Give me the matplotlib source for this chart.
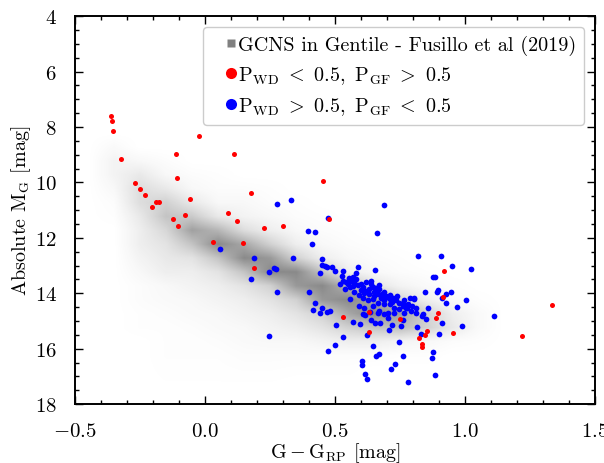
import numpy as np
import matplotlib
matplotlib.use('Agg')
from matplotlib import pyplot as plt
from matplotlib.colors import LinearSegmentedColormap, PowerNorm
from matplotlib.lines import Line2D

plt.rcParams['font.family'] = 'serif'
plt.rcParams['font.serif'] = ['cmr10']
plt.rcParams['mathtext.fontset'] = 'cm'
plt.rcParams['axes.formatter.use_mathtext'] = True

# GCNS density (rows = magnitude bins, cols = colour bins)
gcns_color = [-0.45, -0.35, -0.25, -0.15, -0.05, 0.05, 0.15, 0.25, 0.35, 0.45, 0.55, 0.65, 0.75, 0.85, 0.95, 1.05, 1.15]
gcns_mag = [8.25, 8.75, 9.25, 9.75, 10.25, 10.75, 11.25, 11.75, 12.25, 12.75, 13.25, 13.75, 14.25, 14.75, 15.25, 15.75, 16.25, 16.75, 17.25, 17.75]
gcns_density = [
    [0, 0, 0, 0, 0, 0, 0, 0, 0, 0, 0, 0, 0, 0, 0, 0, 0],
    [0, 0.8, 0, 0, 0, 0, 0, 0, 0, 0, 0, 0, 0, 0, 0, 0, 0],
    [0, 1.5, 1.0, 0.5, 0, 0, 0, 0, 0, 0, 0, 0, 0, 0, 0, 0, 0],
    [0, 1.5, 2.5, 1.0, 0.5, 0.3, 0, 0, 0, 0, 0, 0, 0, 0, 0, 0, 0],
    [0, 1.0, 3.5, 2.5, 1.0, 0.5, 0.5, 0.3, 0, 0, 0, 0, 0, 0, 0, 0, 0],
    [0, 0.5, 3.5, 4.5, 2.5, 1.0, 1.0, 0.5, 0.3, 0, 0, 0, 0, 0, 0, 0, 0],
    [0, 0.3, 2.5, 5.5, 5.0, 2.5, 1.5, 1.0, 0.5, 0.3, 0, 0, 0, 0, 0, 0, 0],
    [0, 0, 2.0, 4.0, 8.0, 6.5, 3.5, 2.0, 1.0, 0.5, 0.3, 0, 0, 0, 0, 0, 0],
    [0, 0, 2.0, 3.0, 5.5, 9.5, 7.5, 4.5, 2.0, 1.0, 0.5, 0.3, 0, 0, 0, 0, 0],
    [0, 0, 1.5, 2.5, 3.0, 5.5, 9.5, 8.5, 4.5, 2.0, 1.0, 0.5, 0.3, 0, 0, 0, 0],
    [0, 0, 1.0, 2.0, 2.0, 3.0, 5.5, 9.5, 9.5, 5.5, 2.0, 1.0, 0.5, 0.3, 0, 0, 0],
    [0, 0, 0.5, 1.0, 1.5, 2.0, 3.0, 4.5, 8.5, 9.5, 6.5, 3.0, 1.5, 0.8, 0.3, 0, 0],
    [0, 0, 0.5, 0.8, 1.0, 1.5, 2.0, 3.0, 4.5, 8.5, 9.5, 7.5, 4.0, 2.0, 0.8, 0.3, 0],
    [0, 0, 0.3, 0.5, 0.8, 1.0, 1.5, 2.0, 3.0, 4.5, 7.5, 9.5, 8.0, 4.5, 2.0, 0.8, 0],
    [0, 0, 0.3, 0.3, 0.5, 0.8, 1.0, 1.5, 2.0, 3.0, 4.5, 5.5, 6.0, 4.5, 2.5, 0.8, 0],
    [0, 0, 0, 0.3, 0.3, 0.5, 0.8, 1.0, 1.0, 1.5, 2.0, 2.0, 1.5, 1.0, 0.5, 0.3, 0],
    [0, 0, 0, 0.3, 0.3, 0.3, 0.5, 0.5, 0.5, 0.5, 0.5, 0.5, 0.3, 0.3, 0, 0, 0],
    [0, 0, 0, 0.2, 0.2, 0.2, 0.3, 0.3, 0.2, 0.2, 0.2, 0, 0, 0, 0, 0, 0],
    [0, 0, 0, 0.1, 0.1, 0.1, 0.1, 0.1, 0, 0, 0, 0, 0, 0, 0, 0, 0],
    [0, 0, 0, 0, 0, 0, 0, 0, 0, 0, 0, 0, 0, 0, 0, 0, 0],
]

# P_WD < 0.5, P_GF > 0.5
red_color = [-0.363, -0.358, -0.352, -0.322, -0.267, -0.251, -0.232, -0.188, -0.178, -0.205,
             -0.113, -0.024, 0.111, -0.108, -0.056, -0.075, -0.124, -0.105, 0.178, 0.088,
             0.122, 0.032, 0.147, 0.456, 0.226, 0.301, 0.188, 0.476, 0.533, 0.630,
             0.630, 0.750, 0.920, 1.334, 1.221, 0.917, 0.895, 0.888, 0.855, 0.847,
             0.823, 0.834, 0.835, 0.955]
red_mag = [7.62, 7.79, 8.15, 9.16, 10.02, 10.23, 10.46, 10.69, 10.71, 10.90,
           8.97, 8.34, 8.99, 9.85, 10.61, 11.17, 11.32, 11.57, 10.40, 11.10,
           11.40, 12.14, 12.17, 9.96, 11.65, 11.57, 13.09, 11.33, 14.86, 15.41,
           14.66, 14.94, 13.21, 14.44, 15.53, 14.12, 14.70, 14.88, 15.37, 15.51,
           15.62, 15.84, 15.93, 15.42]

# P_WD > 0.5, P_GF < 0.5
blue_color = [0.278, 0.332, 0.688, 0.472, 0.397, 0.424, 0.660, 0.410, 0.057, 0.188,
              0.339, 0.452, 0.452, 0.245, 0.267, 0.272, 0.176, 0.276, 0.399, 0.442,
              0.463, 0.470, 0.489, 0.500, 0.589, 0.656, 0.425, 0.417, 0.443, 0.470,
              0.480, 0.505, 0.570, 0.598, 0.615, 0.638, 0.655, 0.675, 0.690, 0.706,
              0.720, 0.708, 0.530, 0.625, 0.648, 0.499, 0.475, 0.245, 0.657, 0.670,
              0.745, 0.820, 0.907, 0.949, 1.025, 0.879, 0.884, 0.847, 0.892, 0.895,
              0.948, 0.926, 0.911, 0.929, 1.005, 0.968, 0.858, 0.839, 1.110, 0.849,
              0.911, 0.990, 0.816, 0.756, 0.830, 0.900, 0.762, 0.878, 0.872, 0.730,
              0.717, 0.884, 0.806, 0.833, 0.812, 0.775, 0.760, 0.606, 0.605, 0.617,
              0.622, 0.780, 0.449, 0.558, 0.607,
              0.533, 0.528, 0.582, 0.568, 0.553, 0.560, 0.543, 0.530, 0.520, 0.574,
              0.582, 0.558, 0.537, 0.601, 0.607, 0.639, 0.645, 0.658, 0.671, 0.620,
              0.630, 0.652, 0.665, 0.682, 0.697, 0.712, 0.678, 0.690, 0.710, 0.725,
              0.735, 0.748, 0.767, 0.787, 0.806, 0.761, 0.776, 0.797, 0.812, 0.793,
              0.748, 0.729, 0.712, 0.690, 0.665, 0.645, 0.626, 0.607, 0.592, 0.575,
              0.594, 0.613, 0.633, 0.645, 0.671, 0.703, 0.729, 0.665, 0.767,
              0.590, 0.620, 0.630, 0.660, 0.690, 0.700, 0.720, 0.740, 0.760, 0.780,
              0.680, 0.650, 0.600, 0.570, 0.550, 0.610, 0.640, 0.670]
blue_mag = [10.79, 10.65, 10.83, 11.28, 11.76, 11.79, 11.83, 12.22, 12.42, 12.74,
            12.74, 12.77, 12.98, 13.22, 13.09, 13.11, 13.49, 13.95, 13.94, 13.28,
            13.03, 13.05, 13.04, 13.21, 13.05, 13.17, 14.34, 14.60, 14.70, 14.66,
            14.65, 15.16, 15.04, 15.12, 14.79, 14.95, 15.08, 15.07, 14.76, 14.88,
            15.16, 15.32, 15.59, 15.52, 15.90, 15.87, 16.10, 15.53, 16.25, 16.21,
            15.76, 12.66, 12.64, 13.03, 13.12, 13.42, 13.42, 13.96, 13.96, 13.90,
            13.96, 14.02, 14.18, 14.35, 14.23, 14.51, 14.54, 14.76, 14.82, 14.94,
            15.06, 15.17, 15.23, 15.19, 15.48, 15.46, 16.25, 16.13, 16.35, 16.57,
            16.74, 16.94, 14.19, 14.83, 14.70, 14.55, 14.96, 16.43, 16.60, 16.92,
            17.10, 17.20, 14.55, 14.19, 14.75,
            13.21, 13.39, 13.27, 13.41, 13.46, 13.56, 13.58, 13.56, 13.65, 13.61,
            13.49, 13.79, 13.86, 13.65, 13.79, 13.68, 13.79, 13.82, 13.86, 13.92,
            14.04, 13.97, 14.04, 14.01, 14.10, 14.07, 14.18, 14.25, 14.22, 14.18,
            14.25, 14.34, 14.23, 14.18, 14.18, 14.46, 14.52, 14.46, 14.54, 14.64,
            14.58, 14.52, 14.40, 14.40, 14.34, 14.22, 14.25, 14.16, 14.06, 13.97,
            14.46, 14.52, 14.66, 14.46, 14.64, 14.73, 14.70, 14.73, 14.73,
            13.70, 13.60, 13.85, 13.95, 13.95, 14.15, 14.30, 14.10, 14.35, 14.40,
            14.10, 14.10, 13.90, 13.75, 13.65, 14.00, 13.55, 13.70]

fig = plt.figure(figsize=(6.04, 4.64), dpi=100)
ax = fig.add_axes([0.124, 0.127, 0.861, 0.836])

gray_cmap = LinearSegmentedColormap.from_list('gcns', ['#ffffff', '#8a8a8a'])
dx = gcns_color[1] - gcns_color[0]
dy = gcns_mag[1] - gcns_mag[0]
ax.imshow(np.array(gcns_density), origin='lower', aspect='auto', cmap=gray_cmap,
          norm=PowerNorm(gamma=1.25, vmin=0, vmax=9.5), interpolation='bilinear', zorder=1,
          extent=(gcns_color[0] - dx / 2, gcns_color[-1] + dx / 2,
                  gcns_mag[0] - dy / 2, gcns_mag[-1] + dy / 2))

ax.scatter(red_color, red_mag, s=13, color='red', linewidths=0, zorder=3)
ax.scatter(blue_color, blue_mag, s=17, color='blue', linewidths=0, zorder=2)

ax.set_xlim(-0.5, 1.5)
ax.set_ylim(18, 4)
ax.set_xticks([-0.5, 0.0, 0.5, 1.0, 1.5])
ax.set_xticks(np.arange(-0.5, 1.51, 0.1), minor=True)
ax.set_yticks([4, 6, 8, 10, 12, 14, 16, 18])
ax.set_yticks(np.arange(4, 18.1, 0.5), minor=True)
ax.xaxis.set_major_formatter(matplotlib.ticker.FormatStrFormatter('$%.1f$'))
ax.tick_params(which='both', direction='in', top=True, right=True, labelsize=15, width=1.0)
ax.tick_params(which='major', length=6, pad=13)
ax.tick_params(which='minor', length=3)
for s in ax.spines.values():
    s.set_linewidth(1.4)

ax.set_xlabel(r'$\mathrm{G - G_{RP}}$ [mag]', fontsize=14.5, labelpad=0)
ax.set_ylabel(r'Absolute $\mathrm{M_G}$ [mag]', fontsize=14.5, labelpad=1)

handles = [
    Line2D([], [], ls='none', marker='s', ms=6, color='#808080', mec='none'),
    Line2D([], [], ls='none', marker='o', ms=8, color='red', mec='none'),
    Line2D([], [], ls='none', marker='o', ms=8, color='blue', mec='none'),
]
labels = ['GCNS in Gentile - Fusillo et al (2019)',
          r'$\mathrm{P_{WD}\ <\ 0.5,\ P_{GF}\ >\ 0.5}$',
          r'$\mathrm{P_{WD}\ >\ 0.5,\ P_{GF}\ <\ 0.5}$']
ax.legend(handles, labels, loc='upper right', fontsize=14.5, handlelength=1.9,
          handletextpad=-0.6, borderaxespad=0.55, borderpad=0.4, labelspacing=0.45,
          framealpha=1, edgecolor='#cccccc')

fig.savefig('out.png', dpi=100)
